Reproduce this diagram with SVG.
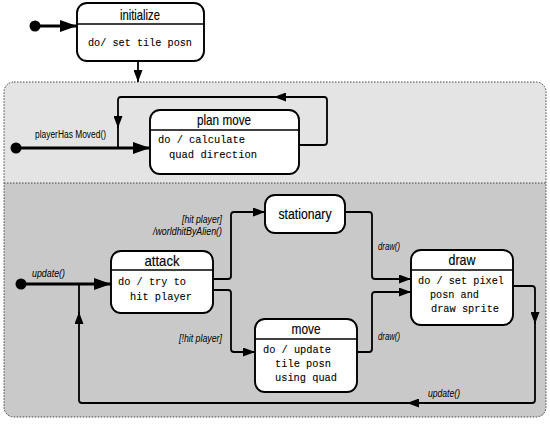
<svg xmlns="http://www.w3.org/2000/svg" width="550" height="424" viewBox="0 0 550 424">
<defs>
<style>
.node{fill:#fff;stroke:#000;stroke-width:1.9}
.div{stroke:#000;stroke-width:1.4}
.hd{font-family:"Liberation Sans",Arial,sans-serif;font-size:14.5px;text-anchor:middle;fill:#000;stroke:#000;stroke-width:0.15}
.bd{font-family:"Liberation Mono","DejaVu Sans Mono",monospace;font-size:11.5px;fill:#000;stroke:#000;stroke-width:0.1}
.lb{font-family:"Liberation Sans",Arial,sans-serif;font-size:10px;font-style:italic;fill:#000}
.ln{fill:none;stroke:#000;stroke-width:1.8;stroke-linejoin:round}
.tk{fill:none;stroke:#000;stroke-width:3}
.dot{fill:#000}
</style>
<marker id="a" markerUnits="userSpaceOnUse" viewBox="0 0 12 9" refX="12" refY="4.5" markerWidth="12" markerHeight="9" orient="auto"><path d="M0,0 L12,4.5 L0,9 z" fill="#000"/></marker>
<marker id="A" markerUnits="userSpaceOnUse" viewBox="0 0 17 12" refX="17" refY="6" markerWidth="17" markerHeight="12" orient="auto"><path d="M0,0 L17,6 L0,12 z" fill="#000"/></marker>
</defs>

<g id="container">
<path d="M14,82 H536 Q546,82 546,92 V183 H4 V92 Q4,82 14,82 Z" fill="#e4e4e4"/>
<path d="M4,183 H546 V407 Q546,417 536,417 H14 Q4,417 4,407 Z" fill="#c9c9c9"/>
<rect x="4" y="82" width="542" height="335" rx="10" fill="none" stroke="#444" stroke-width="1" stroke-dasharray="1.5,1.5"/>
<line x1="4" y1="183" x2="546" y2="183" stroke="#444" stroke-width="1" stroke-dasharray="1.5,1.5"/>
</g>

<g id="connectors">
<circle class="dot" cx="35" cy="26" r="5.5"/>
<line class="tk" x1="35" y1="26" x2="77" y2="26" marker-end="url(#A)"/>
<line class="ln" x1="138" y1="61" x2="138" y2="82" marker-end="url(#a)"/>
<circle class="dot" cx="16" cy="148" r="5.5"/>
<line class="tk" x1="16" y1="148" x2="150" y2="148" marker-end="url(#A)"/>
<path class="ln" d="M299,145 H324 Q327,145 327,142 V100 Q327,97 324,97 H274" marker-end="url(#a)"/>
<path class="ln" d="M275,97 H121 Q118,97 118,100 V128" marker-end="url(#a)"/>
<path class="ln" d="M118,126 V148"/>
<circle class="dot" cx="21" cy="284" r="5.5"/>
<line class="tk" x1="21" y1="284" x2="111" y2="284" marker-end="url(#A)"/>
<path class="ln" d="M213,279 H228 Q231,279 231,276 V215 Q231,212 234,212 H265" marker-end="url(#a)"/>
<path class="ln" d="M213,290 H228 Q231,290 231,293 V349 Q231,352 234,352 H255" marker-end="url(#a)"/>
<path class="ln" d="M345,212 H369 Q372,212 372,215 V276 Q372,279 375,279 H411" marker-end="url(#a)"/>
<path class="ln" d="M357,352 H369 Q372,352 372,349 V295 Q372,292 375,292 H411" marker-end="url(#a)"/>
<path class="ln" d="M513,286 H532 Q535,286 535,289 V324" marker-end="url(#a)"/>
<path class="ln" d="M535,322 V400 Q535,403 532,403 H407" marker-end="url(#a)"/>
<path class="ln" d="M409,403 H82 Q79,403 79,400 V312" marker-end="url(#a)"/>
<path class="ln" d="M79,314 V284"/>
<text class="lb" x="35" y="138" style="font-style:normal" textLength="71" lengthAdjust="spacingAndGlyphs">playerHas Moved()</text>
<text class="lb" x="32" y="277" textLength="33" lengthAdjust="spacingAndGlyphs">update()</text>
<text class="lb" x="182" y="223" textLength="40" lengthAdjust="spacingAndGlyphs">[hit player]</text>
<text class="lb" x="153" y="235" textLength="69" lengthAdjust="spacingAndGlyphs">/worldhitByAlien()</text>
<text class="lb" x="179" y="342" textLength="43" lengthAdjust="spacingAndGlyphs">[!hit player]</text>
<text class="lb" x="378" y="250" textLength="22" lengthAdjust="spacingAndGlyphs">draw()</text>
<text class="lb" x="378" y="340" textLength="22" lengthAdjust="spacingAndGlyphs">draw()</text>
<text class="lb" x="428" y="397" textLength="32" lengthAdjust="spacingAndGlyphs">update()</text>
</g>

<g id="initialize">
<rect class="node" x="77" y="3" width="127" height="58" rx="10"/>
<line class="div" x1="77" y1="24" x2="204" y2="24"/>
<text class="hd" x="140" y="20" textLength="40" lengthAdjust="spacingAndGlyphs">initialize</text>
<text class="bd" x="88" y="46" textLength="104" lengthAdjust="spacingAndGlyphs">do/ set tile posn</text>
</g>

<g id="planmove">
<rect class="node" x="150" y="110" width="149" height="64" rx="10"/>
<line class="div" x1="150" y1="130" x2="299" y2="130"/>
<text class="hd" x="224" y="125" textLength="54" lengthAdjust="spacingAndGlyphs">plan move</text>
<text class="bd" x="158" y="143" textLength="87" lengthAdjust="spacingAndGlyphs">do / calculate</text>
<text class="bd" x="169" y="158" textLength="88" lengthAdjust="spacingAndGlyphs">quad direction</text>
</g>

<g id="attack">
<rect class="node" x="111" y="251" width="102" height="62" rx="10"/>
<line class="div" x1="111" y1="270" x2="213" y2="270"/>
<text class="hd" x="162" y="266" textLength="35" lengthAdjust="spacingAndGlyphs">attack</text>
<text class="bd" x="118" y="285" textLength="68" lengthAdjust="spacingAndGlyphs">do / try to</text>
<text class="bd" x="130" y="300" textLength="62" lengthAdjust="spacingAndGlyphs">hit player</text>
</g>

<g id="stationary">
<rect class="node" x="265" y="195" width="80" height="38" rx="10"/>
<text class="hd" x="305" y="219" style="font-size:15.5px" textLength="53" lengthAdjust="spacingAndGlyphs">stationary</text>
</g>

<g id="draw">
<rect class="node" x="411" y="250" width="102" height="75" rx="10"/>
<line class="div" x1="411" y1="270" x2="513" y2="270"/>
<text class="hd" x="462" y="265" textLength="27" lengthAdjust="spacingAndGlyphs">draw</text>
<text class="bd" x="418" y="284" textLength="86" lengthAdjust="spacingAndGlyphs">do / set pixel</text>
<text class="bd" x="430" y="298" textLength="49" lengthAdjust="spacingAndGlyphs">posn and</text>
<text class="bd" x="431" y="312" textLength="68" lengthAdjust="spacingAndGlyphs">draw sprite</text>
</g>

<g id="move">
<rect class="node" x="255" y="319" width="102" height="73" rx="10"/>
<line class="div" x1="255" y1="339" x2="357" y2="339"/>
<text class="hd" x="306" y="334" textLength="29" lengthAdjust="spacingAndGlyphs">move</text>
<text class="bd" x="263" y="353" textLength="68" lengthAdjust="spacingAndGlyphs">do / update</text>
<text class="bd" x="275" y="367" textLength="56" lengthAdjust="spacingAndGlyphs">tile posn</text>
<text class="bd" x="275" y="381" textLength="62" lengthAdjust="spacingAndGlyphs">using quad</text>
</g>
</svg>
